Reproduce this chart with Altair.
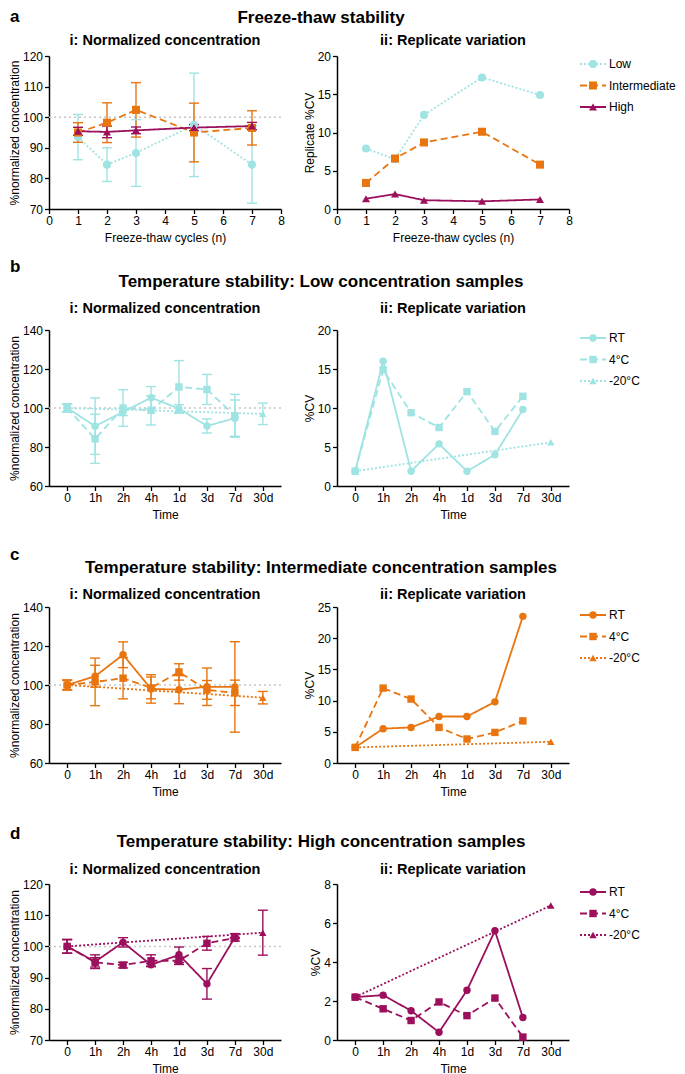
import altair as alt
import pandas as pd

FONT = "Liberation Sans"
CYAN = "#9fe3e3"
ORANGE = "#e8750f"
PURPLE = "#9b0f5c"
REF_GRAY = "#c6c6c6"

# ---------------- a: freeze-thaw ----------------
ft_cycles = [1, 2, 3, 5, 7]
ft_names = ["Low", "Intermediate", "High"]
ft_low_mean = [93.5, 84.5, 88.3, 97.5, 84.5]
ft_low_sd = [7.4, 5.5, 10.9, 16.9, 12.6]
ft_low_cv = [7.9, 6.5, 12.3, 17.2, 14.9]
ft_int_mean = [95.0, 98.2, 102.4, 95.0, 96.5]
ft_int_sd = [3.2, 6.5, 8.9, 9.6, 5.6]
ft_int_cv = [3.4, 6.6, 8.7, 10.1, 5.8]
ft_high_mean = [95.4, 95.2, 95.7, 96.6, 97.1]
ft_high_sd = [1.3, 1.9, 1.1, 1.0, 1.2]
ft_high_cv = [1.35, 1.95, 1.15, 1.0, 1.25]

# ---------------- temperature stability ----------------
times = ["0", "1h", "2h", "4h", "1d", "3d", "7d", "30d"]
temp_names = ["RT", "4°C", "-20°C"]
t_short = ["0", "1h", "2h", "4h", "1d", "3d", "7d"]
t_frozen = ["0", "30d"]

# b: low concentration
b_rt_mean = [100.0, 90.7, 98.0, 105.3, 99.7, 90.8, 94.8]
b_rt_sd = [2.0, 14.5, 1.9, 5.7, 2.0, 3.6, 9.3]
b_rt_cv = [1.9, 16.0, 1.9, 5.4, 1.9, 4.0, 9.8]
b_4c_mean = [100.0, 84.2, 100.0, 98.8, 110.8, 109.5, 96.0]
b_4c_sd = [2.0, 12.6, 9.4, 7.5, 13.5, 7.7, 11.0]
b_4c_cv = [1.9, 14.9, 9.4, 7.5, 12.1, 7.0, 11.5]
b_m20_mean = [100.0, 97.0]
b_m20_sd = [2.0, 5.5]
b_m20_cv = [1.9, 5.6]

# c: intermediate concentration
c_rt_mean = [100.0, 104.5, 115.5, 98.0, 97.6, 99.1, 99.0]
c_rt_sd = [2.5, 5.6, 6.6, 7.3, 7.2, 9.6, 23.2]
c_rt_cv = [2.5, 5.5, 5.7, 7.45, 7.45, 9.8, 23.5]
c_4c_mean = [100.0, 101.6, 103.5, 98.5, 106.7, 97.5, 96.0]
c_4c_sd = [2.5, 12.2, 10.6, 5.6, 4.2, 4.8, 6.5]
c_4c_cv = [2.5, 12.0, 10.25, 5.7, 3.85, 4.9, 6.75]
c_m20_mean = [100.0, 93.5]
c_m20_sd = [2.5, 3.2]
c_m20_cv = [2.5, 3.4]

# d: high concentration
d_rt_mean = [100.0, 95.1, 101.3, 94.1, 97.3, 88.0, 102.9]
d_rt_sd = [2.2, 2.2, 1.5, 0.4, 2.5, 4.9, 1.2]
d_rt_cv = [2.2, 2.3, 1.5, 0.4, 2.55, 5.6, 1.15]
d_4c_mean = [100.0, 94.9, 94.0, 95.4, 95.4, 101.0, 102.7]
d_4c_sd = [2.2, 1.5, 0.9, 1.9, 1.2, 2.2, 0.2]
d_4c_cv = [2.2, 1.6, 1.0, 1.95, 1.25, 2.15, 0.15]
d_m20_mean = [100.0, 104.4]
d_m20_sd = [2.2, 7.2]
d_m20_cv = [2.2, 6.9]


def frame(names, xs_lists, means, sds, cvs, order):
    rec = []
    for n, xs, m, s, c in zip(names, xs_lists, means, sds, cvs):
        for xi, mi, si, ci in zip(xs, m, s, c):
            rec.append(dict(series=n, x=xi, idx=order.index(xi), mean=mi,
                            lo=mi - si, hi=mi + si, cv=ci))
    return pd.DataFrame(rec)


def text_layer(s, xv, yv, size, weight="bold", align="center"):
    return alt.Chart(pd.DataFrame({"t": [s]})).mark_text(
        font=FONT, fontSize=size, fontWeight=weight, align=align,
        baseline="alphabetic", color="black").encode(
        text="t:N", x=alt.value(xv), y=alt.value(yv))


def make_row(df, names, colors, dashes, shapes, quant, xtitle, h,
             ndom, nvals, cvdom, cvvals, cvtitle, letter, title,
             letter_y, title_y, sub_y, msize):
    color = alt.Color("series:N", scale=alt.Scale(domain=names, range=colors), legend=None)
    dash = alt.StrokeDash("series:N", scale=alt.Scale(domain=names, range=dashes), legend=None)
    shape = alt.Shape("series:N", scale=alt.Scale(domain=names, range=shapes), legend=None)
    if quant:
        x = alt.X("x:Q", title=xtitle, scale=alt.Scale(domain=[0, 8], nice=False),
                  axis=alt.Axis(values=list(range(9)), format="d"))
    else:
        x = alt.X("x:N", title=xtitle,
                  scale=alt.Scale(type="point", domain=times, padding=0.65),
                  axis=alt.Axis(labelAngle=0))

    def yn(field):
        return alt.Y(field, type="quantitative", title="%normalized concentration",
                     scale=alt.Scale(domain=ndom, nice=False, zero=False),
                     axis=alt.Axis(values=nvals, format="d"))

    base = alt.Chart(df)
    ref = alt.Chart(pd.DataFrame({"mean": [100]})).mark_rule(
        color=REF_GRAY, strokeDash=[2, 3], strokeWidth=1.5).encode(y=yn("mean"))
    err = base.mark_rule(strokeWidth=1.4).encode(x=x, y=yn("lo"), y2="hi:Q", color=color)
    cap_lo = base.mark_tick(orient="horizontal", size=10, thickness=1.4, opacity=1).encode(
        x=x, y=yn("lo"), color=color)
    cap_hi = base.mark_tick(orient="horizontal", size=10, thickness=1.4, opacity=1).encode(
        x=x, y=yn("hi"), color=color)
    line = base.mark_line(strokeWidth=1.8).encode(
        x=x, y=yn("mean"), color=color, strokeDash=dash, order=alt.Order("idx:Q"))
    pts = base.mark_point(filled=True, size=msize, opacity=1).encode(
        x=x, y=yn("mean"), color=color, shape=shape)

    left = alt.layer(
        ref, err, cap_lo, cap_hi, line, pts,
        text_layer(letter, -39, letter_y, 17, align="left"),
        text_layer(title, 272, title_y, 17),
        text_layer("i: Normalized concentration", 116, sub_y, 14.5),
    ).properties(width=232, height=h)

    cvy = alt.Y("cv:Q", title=cvtitle, scale=alt.Scale(domain=cvdom, nice=False),
                axis=alt.Axis(values=cvvals, format="d"))
    line_cv = base.mark_line(strokeWidth=1.8).encode(
        x=x, y=cvy, color=color, strokeDash=dash, order=alt.Order("idx:Q"))
    pts_cv = base.mark_point(filled=True, size=msize, opacity=1).encode(
        x=x, y=cvy, color=color, shape=shape)
    main_r = alt.layer(line_cv, pts_cv,
                       text_layer("ii: Replicate variation", 116, sub_y, 14.5))

    leg_df = pd.DataFrame({"series": names})
    ly = alt.Y("series:N", axis=None,
               scale=alt.Scale(type="point", domain=names, range=[8, 51], padding=0))
    leg_line = alt.Chart(leg_df).mark_rule(strokeWidth=1.8).encode(
        x=alt.value(243), x2=alt.value(269), y=ly, color=color, strokeDash=dash)
    leg_pt = alt.Chart(leg_df).mark_point(filled=True, size=msize, opacity=1).encode(
        x=alt.value(256), y=ly, color=color, shape=shape)
    leg_txt = alt.Chart(leg_df).mark_text(
        align="left", baseline="middle", fontSize=12, font=FONT, color="black").encode(
        x=alt.value(272), y=ly, text="series:N")
    leg = alt.layer(leg_line, leg_pt, leg_txt)

    right = alt.layer(main_r, leg).resolve_scale(y="independent").properties(width=232, height=h)
    return [left, right]


shapes = ["circle", "square", "triangle-up"]

df_a = frame(ft_names, [ft_cycles] * 3,
             [ft_low_mean, ft_int_mean, ft_high_mean],
             [ft_low_sd, ft_int_sd, ft_high_sd],
             [ft_low_cv, ft_int_cv, ft_high_cv], ft_cycles)
df_b = frame(temp_names, [t_short, t_short, t_frozen],
             [b_rt_mean, b_4c_mean, b_m20_mean], [b_rt_sd, b_4c_sd, b_m20_sd],
             [b_rt_cv, b_4c_cv, b_m20_cv], times)
df_c = frame(temp_names, [t_short, t_short, t_frozen],
             [c_rt_mean, c_4c_mean, c_m20_mean], [c_rt_sd, c_4c_sd, c_m20_sd],
             [c_rt_cv, c_4c_cv, c_m20_cv], times)
df_d = frame(temp_names, [t_short, t_short, t_frozen],
             [d_rt_mean, d_4c_mean, d_m20_mean], [d_rt_sd, d_4c_sd, d_m20_sd],
             [d_rt_cv, d_4c_cv, d_m20_cv], times)

temp_dashes = [[1, 0], [7, 4], [2, 2]]

panels = []
panels += make_row(df_a, ft_names, [CYAN, ORANGE, PURPLE], [[2, 2], [7, 4], [1, 0]], shapes,
                   True, "Freeze-thaw cycles (n)", 153,
                   [70, 120], [70, 80, 90, 100, 110, 120], [0, 20], [0, 5, 10, 15, 20],
                   "Replicate %CV", "a", "Freeze-thaw stability", -34, -33.3, -10.7, 65)
panels += make_row(df_b, temp_names, [CYAN] * 3, temp_dashes, shapes,
                   False, "Time", 156,
                   [60, 140], [60, 80, 100, 120, 140], [0, 20], [0, 5, 10, 15, 20],
                   "%CV", "b", "Temperature stability: Low concentration samples",
                   -57.7, -42.6, -16.7, 55)
panels += make_row(df_c, temp_names, [ORANGE] * 3, temp_dashes, shapes,
                   False, "Time", 156,
                   [60, 140], [60, 80, 100, 120, 140], [0, 25], [0, 5, 10, 15, 20, 25],
                   "%CV", "c", "Temperature stability: Intermediate concentration samples",
                   -47, -34.3, -7.7, 55)
panels += make_row(df_d, temp_names, [PURPLE] * 3, temp_dashes, shapes,
                   False, "Time", 156,
                   [70, 120], [70, 80, 90, 100, 110, 120], [0, 8], [0, 2, 4, 6, 8],
                   "%CV", "d", "Temperature stability: High concentration samples",
                   -45.3, -37.3, -9.7, 55)

chart = alt.concat(
    *panels, columns=2, bounds="flush", spacing={"row": 121, "column": 56}
).resolve_scale(
    color="independent", shape="independent", strokeDash="independent"
).properties(
    padding=0
).configure_view(
    stroke=None
).configure_axis(
    domainColor="black", domainWidth=1.5, tickColor="black", tickWidth=1.3, tickSize=4.5,
    labelColor="black", labelFont=FONT, labelFontSize=12, labelPadding=2,
    labelFlush=False, labelOverlap=False,
    titleFont=FONT, titleFontSize=12, titleFontWeight="normal", titleColor="black",
    grid=False
).configure_axisY(
    titlePadding=1
).configure_axisX(
    titlePadding=6
)

chart.save("out.html", embed_options={"renderer": "svg", "actions": False})
